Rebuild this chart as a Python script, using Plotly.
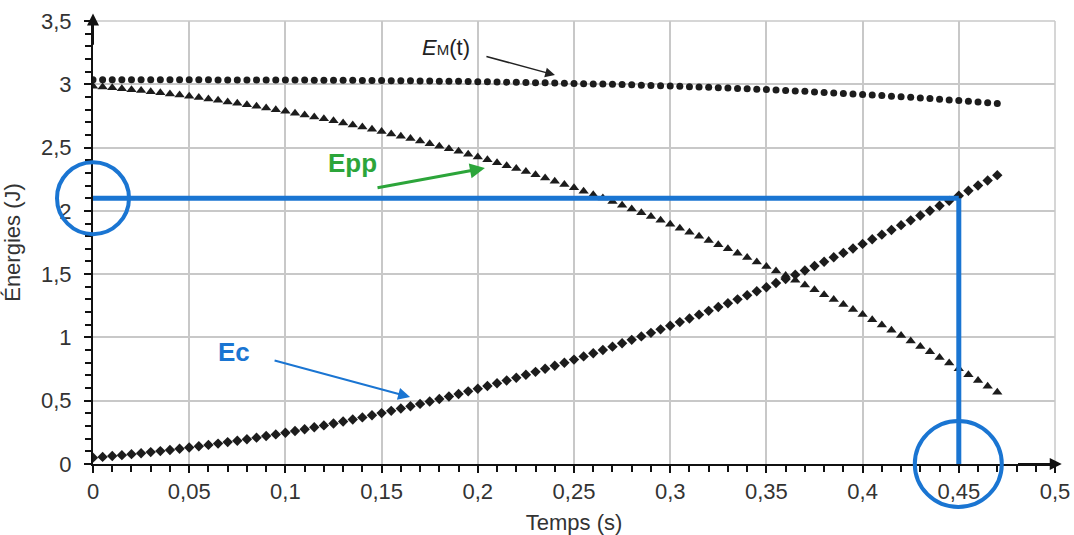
import plotly.graph_objects as go

# ---- data ----
temps = [0.000, 0.005, 0.010, 0.015, 0.020, 0.025, 0.030, 0.035, 0.040, 0.045,
         0.050, 0.055, 0.060, 0.065, 0.070, 0.075, 0.080, 0.085, 0.090, 0.095,
         0.100, 0.105, 0.110, 0.115, 0.120, 0.125, 0.130, 0.135, 0.140, 0.145,
         0.150, 0.155, 0.160, 0.165, 0.170, 0.175, 0.180, 0.185, 0.190, 0.195,
         0.200, 0.205, 0.210, 0.215, 0.220, 0.225, 0.230, 0.235, 0.240, 0.245,
         0.250, 0.255, 0.260, 0.265, 0.270, 0.275, 0.280, 0.285, 0.290, 0.295,
         0.300, 0.305, 0.310, 0.315, 0.320, 0.325, 0.330, 0.335, 0.340, 0.345,
         0.350, 0.355, 0.360, 0.365, 0.370, 0.375, 0.380, 0.385, 0.390, 0.395,
         0.400, 0.405, 0.410, 0.415, 0.420, 0.425, 0.430, 0.435, 0.440, 0.445,
         0.450, 0.455, 0.460, 0.465, 0.470]

em = [3.035, 3.035, 3.035, 3.035, 3.035, 3.035, 3.035, 3.035, 3.035, 3.035,
      3.035, 3.035, 3.035, 3.034, 3.034, 3.034, 3.034, 3.034, 3.034, 3.033,
      3.033, 3.033, 3.033, 3.032, 3.032, 3.031, 3.031, 3.031, 3.030, 3.030,
      3.029, 3.028, 3.028, 3.027, 3.026, 3.025, 3.024, 3.024, 3.023, 3.022,
      3.021, 3.020, 3.018, 3.017, 3.016, 3.015, 3.013, 3.012, 3.010, 3.009,
      3.007, 3.005, 3.003, 3.002, 3.000, 2.998, 2.996, 2.993, 2.991, 2.989,
      2.986, 2.984, 2.981, 2.979, 2.976, 2.973, 2.970, 2.967, 2.964, 2.961,
      2.958, 2.954, 2.951, 2.947, 2.944, 2.940, 2.936, 2.932, 2.928, 2.924,
      2.920, 2.915, 2.911, 2.906, 2.902, 2.897, 2.892, 2.887, 2.882, 2.876,
      2.871, 2.865, 2.860, 2.854, 2.848]

epp = [2.985, 2.979, 2.972, 2.965, 2.957, 2.950, 2.941, 2.933, 2.924, 2.915,
       2.905, 2.895, 2.884, 2.873, 2.861, 2.850, 2.838, 2.826, 2.813, 2.799,
       2.786, 2.772, 2.758, 2.742, 2.727, 2.711, 2.695, 2.679, 2.662, 2.645,
       2.627, 2.608, 2.590, 2.571, 2.551, 2.531, 2.511, 2.491, 2.470, 2.448,
       2.426, 2.404, 2.380, 2.357, 2.334, 2.310, 2.285, 2.260, 2.234, 2.209,
       2.182, 2.155, 2.128, 2.101, 2.073, 2.044, 2.015, 1.985, 1.955, 1.925,
       1.894, 1.863, 1.831, 1.799, 1.766, 1.733, 1.700, 1.666, 1.631, 1.596,
       1.561, 1.524, 1.489, 1.451, 1.415, 1.376, 1.338, 1.299, 1.260, 1.221,
       1.181, 1.139, 1.099, 1.057, 1.015, 0.972, 0.929, 0.886, 0.842, 0.797,
       0.752, 0.706, 0.660, 0.614, 0.566]

ec = [0.050, 0.056, 0.063, 0.070, 0.078, 0.085, 0.094, 0.102, 0.111, 0.120,
      0.130, 0.140, 0.151, 0.161, 0.173, 0.184, 0.196, 0.208, 0.221, 0.234,
      0.247, 0.261, 0.275, 0.290, 0.305, 0.320, 0.336, 0.352, 0.368, 0.385,
      0.402, 0.420, 0.438, 0.456, 0.475, 0.494, 0.513, 0.533, 0.553, 0.574,
      0.595, 0.616, 0.638, 0.660, 0.682, 0.705, 0.728, 0.752, 0.776, 0.800,
      0.825, 0.850, 0.875, 0.901, 0.927, 0.954, 0.981, 1.008, 1.036, 1.064,
      1.092, 1.121, 1.150, 1.180, 1.210, 1.240, 1.270, 1.301, 1.333, 1.365,
      1.397, 1.430, 1.462, 1.496, 1.529, 1.564, 1.598, 1.633, 1.668, 1.703,
      1.739, 1.776, 1.812, 1.849, 1.887, 1.925, 1.963, 2.001, 2.040, 2.079,
      2.119, 2.159, 2.200, 2.240, 2.282]

x_ticks = [0, 0.05, 0.1, 0.15, 0.2, 0.25, 0.3, 0.35, 0.4, 0.45, 0.5]
x_labels = ["0", "0,05", "0,1", "0,15", "0,2", "0,25", "0,3", "0,35", "0,4", "0,45", "0,5"]
y_ticks = [0, 0.5, 1, 1.5, 2, 2.5, 3, 3.5]
y_labels = ["0", "0,5", "1", "1,5", "2", "2,5", "3", "3,5"]

read_t = 0.45
read_e = 2.1
x_max = 0.5
y_max = 3.5

# ---- styles ----
MARK = "#1c1c1c"
BLUE = "#1a75d2"
GREEN = "#2ca53a"
FONT = "Liberation Sans, Arial, sans-serif"
TXT = "#333"

fig = go.Figure()
fig.add_trace(go.Scatter(x=temps, y=em, mode="markers", name="EM",
                         marker=dict(symbol="circle", size=7, color=MARK)))
fig.add_trace(go.Scatter(x=temps, y=epp, mode="markers", name="Epp",
                         marker=dict(symbol="triangle-up", size=9, color=MARK)))
fig.add_trace(go.Scatter(x=temps, y=ec, mode="markers", name="Ec",
                         marker=dict(symbol="diamond", size=8, color=MARK)))

# reading lines
fig.add_shape(type="line", x0=0, y0=read_e, x1=read_t, y1=read_e,
              line=dict(color=BLUE, width=5), layer="above")
fig.add_shape(type="line", x0=read_t, y0=0, x1=read_t, y1=read_e,
              line=dict(color=BLUE, width=5), layer="above")
# circles (paper-referenced so they are not clipped by the plot area)
fig.add_shape(type="circle", xref="paper", yref="paper", xsizemode="pixel", ysizemode="pixel",
              xanchor=0, yanchor=read_e / y_max, x0=-36, x1=36, y0=-36, y1=36,
              line=dict(color=BLUE, width=4), layer="above")
fig.add_shape(type="circle", xref="paper", yref="paper", xsizemode="pixel", ysizemode="pixel",
              xanchor=read_t / x_max, yanchor=0, x0=-44, x1=43, y0=-43, y1=43,
              line=dict(color=BLUE, width=4), layer="above")

annotations = [
    # axis arrows
    dict(x=0, y=3.56, ax=0, ay=3.3, xref="x", yref="y", axref="x", ayref="y",
         showarrow=True, arrowhead=2, arrowsize=1.2, arrowwidth=2, arrowcolor="#111", text=""),
    dict(x=0.5035, y=0, ax=0.48, ay=0, xref="x", yref="y", axref="x", ayref="y",
         showarrow=True, arrowhead=2, arrowsize=1.2, arrowwidth=2, arrowcolor="#111", text=""),
    # EM label
    dict(x=0.1835, y=3.294, xref="x", yref="y", showarrow=False,
         text="<i>E</i><span style='font-size:15px'>M</span>(t)",
         font=dict(family=FONT, size=22, color="#222")),
    dict(x=0.2401, y=3.073, ax=0.2037, ay=3.223, xref="x", yref="y", axref="x", ayref="y",
         showarrow=True, arrowhead=2, arrowsize=1.3, arrowwidth=1.5, arrowcolor="#222", text=""),
    # Epp label
    dict(x=0.1351, y=2.378, xref="x", yref="y", showarrow=False, text="<b>Epp</b>",
         font=dict(family=FONT, size=26, color=GREEN)),
    dict(x=0.2037, y=2.338, ax=0.1471, ay=2.180, xref="x", yref="y", axref="x", ayref="y",
         showarrow=True, arrowhead=2, arrowsize=1.0, arrowwidth=3, arrowcolor=GREEN, text=""),
    # Ec label
    dict(x=0.0733, y=0.885, xref="x", yref="y", showarrow=False, text="<b>Ec</b>",
         font=dict(family=FONT, size=26, color=BLUE)),
    dict(x=0.1648, y=0.529, ax=0.0936, ay=0.821, xref="x", yref="y", axref="x", ayref="y",
         showarrow=True, arrowhead=2, arrowsize=1.2, arrowwidth=2, arrowcolor=BLUE, text=""),
]

fig.update_layout(
    width=1074, height=535,
    margin=dict(l=93, r=19, t=21, b=71),
    paper_bgcolor="white", plot_bgcolor="white",
    showlegend=False,
    font=dict(family=FONT, size=22, color=TXT),
    annotations=annotations,
)
fig.update_xaxes(
    range=[0, x_max], tickvals=x_ticks, ticktext=x_labels, automargin=False,
    showgrid=True, gridcolor="#c8c8c8", gridwidth=1.5,
    showline=True, linecolor="#111", linewidth=2, zeroline=False,
    ticks="outside", ticklen=7, tickwidth=2, tickcolor="#111",
    minor=dict(dtick=0.01, ticks="outside", ticklen=6, tickwidth=2, tickcolor="#111", showgrid=False),
    title=dict(text="Temps (s)", font=dict(family=FONT, size=22, color=TXT)),
    tickfont=dict(family=FONT, size=22, color=TXT),
)
fig.update_yaxes(
    range=[0, y_max], tickvals=y_ticks, ticktext=y_labels, automargin=False,
    showgrid=True, gridcolor="#c8c8c8", gridwidth=1.5,
    showline=True, linecolor="#111", linewidth=2, zeroline=False,
    ticks="outside", ticklen=7, tickwidth=2, tickcolor="#111",
    minor=dict(dtick=0.1, ticks="outside", ticklen=6, tickwidth=2, tickcolor="#111", showgrid=False),
    title=dict(text="Énergies (J)", font=dict(family=FONT, size=22, color=TXT)),
    tickfont=dict(family=FONT, size=22, color=TXT),
    ticklabelstandoff=8,
)
# border grid lines at top and right
fig.add_shape(type="line", xref="paper", yref="paper", x0=0, x1=1, y0=1, y1=1,
              line=dict(color="#c8c8c8", width=1.5), layer="below")
fig.add_shape(type="line", xref="paper", yref="paper", x0=1, x1=1, y0=0, y1=1,
              line=dict(color="#c8c8c8", width=1.5), layer="below")

fig.write_html("out.html",
               config={"displayModeBar": False},
               post_script="document.body.style.margin='0';document.body.style.overflow='hidden';")
